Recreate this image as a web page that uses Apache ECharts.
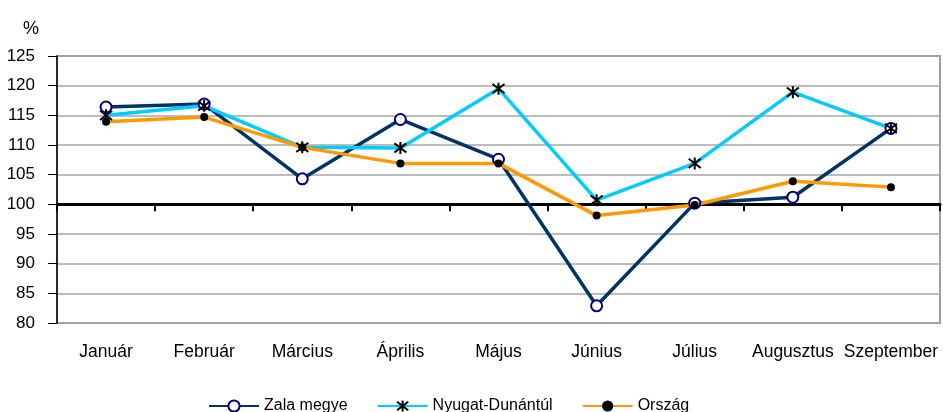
<!DOCTYPE html>
<html>
<head>
<meta charset="utf-8">
<script src="https://cdn.jsdelivr.net/npm/echarts@6/dist/echarts.min.js"></script>
<style>
html,body{margin:0;padding:0;background:#fff;}
#chart{width:943px;height:412px;}
</style>
</head>
<body>
<div id="chart"></div>
<script>
var categories = ['Január','Február','Március','Április','Május','Június','Július','Augusztus','Szeptember'];
var zalaMegye = [116.4, 116.9, 104.3, 114.3, 107.6, 82.9, 100.2, 101.2, 112.8];
var nyugatDunantul = [115.0, 116.6, 109.6, 109.5, 119.5, 100.7, 106.9, 118.9, 112.8];
var orszag = [113.9, 114.7, 109.6, 106.9, 106.9, 98.1, 99.9, 103.9, 102.9];
var BASE = 100;   // the category axis crosses the value axis at 100 %
var yMin = 80, yMax = 125, yStep = 5;

function shift(arr){ return arr.map(function(v){ return +(v - BASE).toFixed(3); }); }

var FONT = '"Liberation Sans", Arial, sans-serif';
var chart = echarts.init(document.getElementById('chart'), null, {renderer:'canvas'});
var asterisk = 'path://M0,0 L10,10 M10,0 L0,10 M5,-1.5 L5,11.5';

chart.setOption({
  animation: false,
  backgroundColor: '#fff',
  title: {
    text: '%', left: 18, top: 15,
    textStyle: {fontFamily: FONT, fontSize: 18, fontWeight: 'normal', color: '#000'}
  },
  grid: {
    left: 57, right: 3, top: 56, bottom: 89,
    outerBoundsMode: 'none', containLabel: false,
    show: true, borderColor: '#a0a0a0', borderWidth: 2, backgroundColor: 'transparent'
  },
  legend: {
    left: 203, top: 393,
    itemWidth: 50, itemHeight: 14, itemGap: 29,
    textStyle: {fontFamily: FONT, fontSize: 16, color: '#000'},
    data: ['Zala megye', 'Nyugat-Dunántúl', 'Ország']
  },
  xAxis: [{
    type: 'category', data: categories, position: 'bottom', boundaryGap: true,
    axisLine: {show: false, onZero: false},
    axisTick: {show: false},
    splitLine: {show: false},
    axisLabel: {fontFamily: FONT, fontSize: 17.5, color: '#000', margin: 20, interval: 0}
  }, {
    type: 'category', data: categories, position: 'bottom', boundaryGap: true,
    axisLine: {show: true, onZero: true, lineStyle: {color: '#000', width: 3}},
    axisTick: {show: true, length: 7, lineStyle: {color: '#000', width: 2}},
    axisLabel: {show: false},
    splitLine: {show: false}
  }],
  yAxis: {
    type: 'value', min: yMin - BASE, max: yMax - BASE, interval: yStep,
    axisLine: {show: true, onZero: false, lineStyle: {color: '#000', width: 1.5}},
    axisTick: {show: true, length: 9, lineStyle: {color: '#000', width: 1}},
    splitLine: {show: true, lineStyle: {color: '#a6a6a6', width: 1.5}},
    axisLabel: {
      fontFamily: FONT, fontSize: 17, color: '#000', margin: 22, align: 'right',
      formatter: function(v){ return String(v + BASE); }
    }
  },
  series: [{
    name: 'Zala megye', type: 'line', xAxisIndex: 0, data: shift(zalaMegye),
    symbol: 'circle', symbolSize: 11,
    itemStyle: {color: '#fff', borderColor: '#000080', borderWidth: 2},
    lineStyle: {color: '#003366', width: 3.5}
  }, {
    name: 'Nyugat-Dunántúl', type: 'line', xAxisIndex: 0, data: shift(nyugatDunantul),
    symbol: asterisk, symbolSize: 12,
    itemStyle: {color: '#000', borderColor: '#000', borderWidth: 2},
    lineStyle: {color: '#00CCFF', width: 3.5}
  }, {
    name: 'Ország', type: 'line', xAxisIndex: 0, data: shift(orszag),
    symbol: 'circle', symbolSize: 8,
    itemStyle: {color: '#000', borderWidth: 0},
    lineStyle: {color: '#FF9900', width: 3.5}
  }]
});
</script>
</body>
</html>
